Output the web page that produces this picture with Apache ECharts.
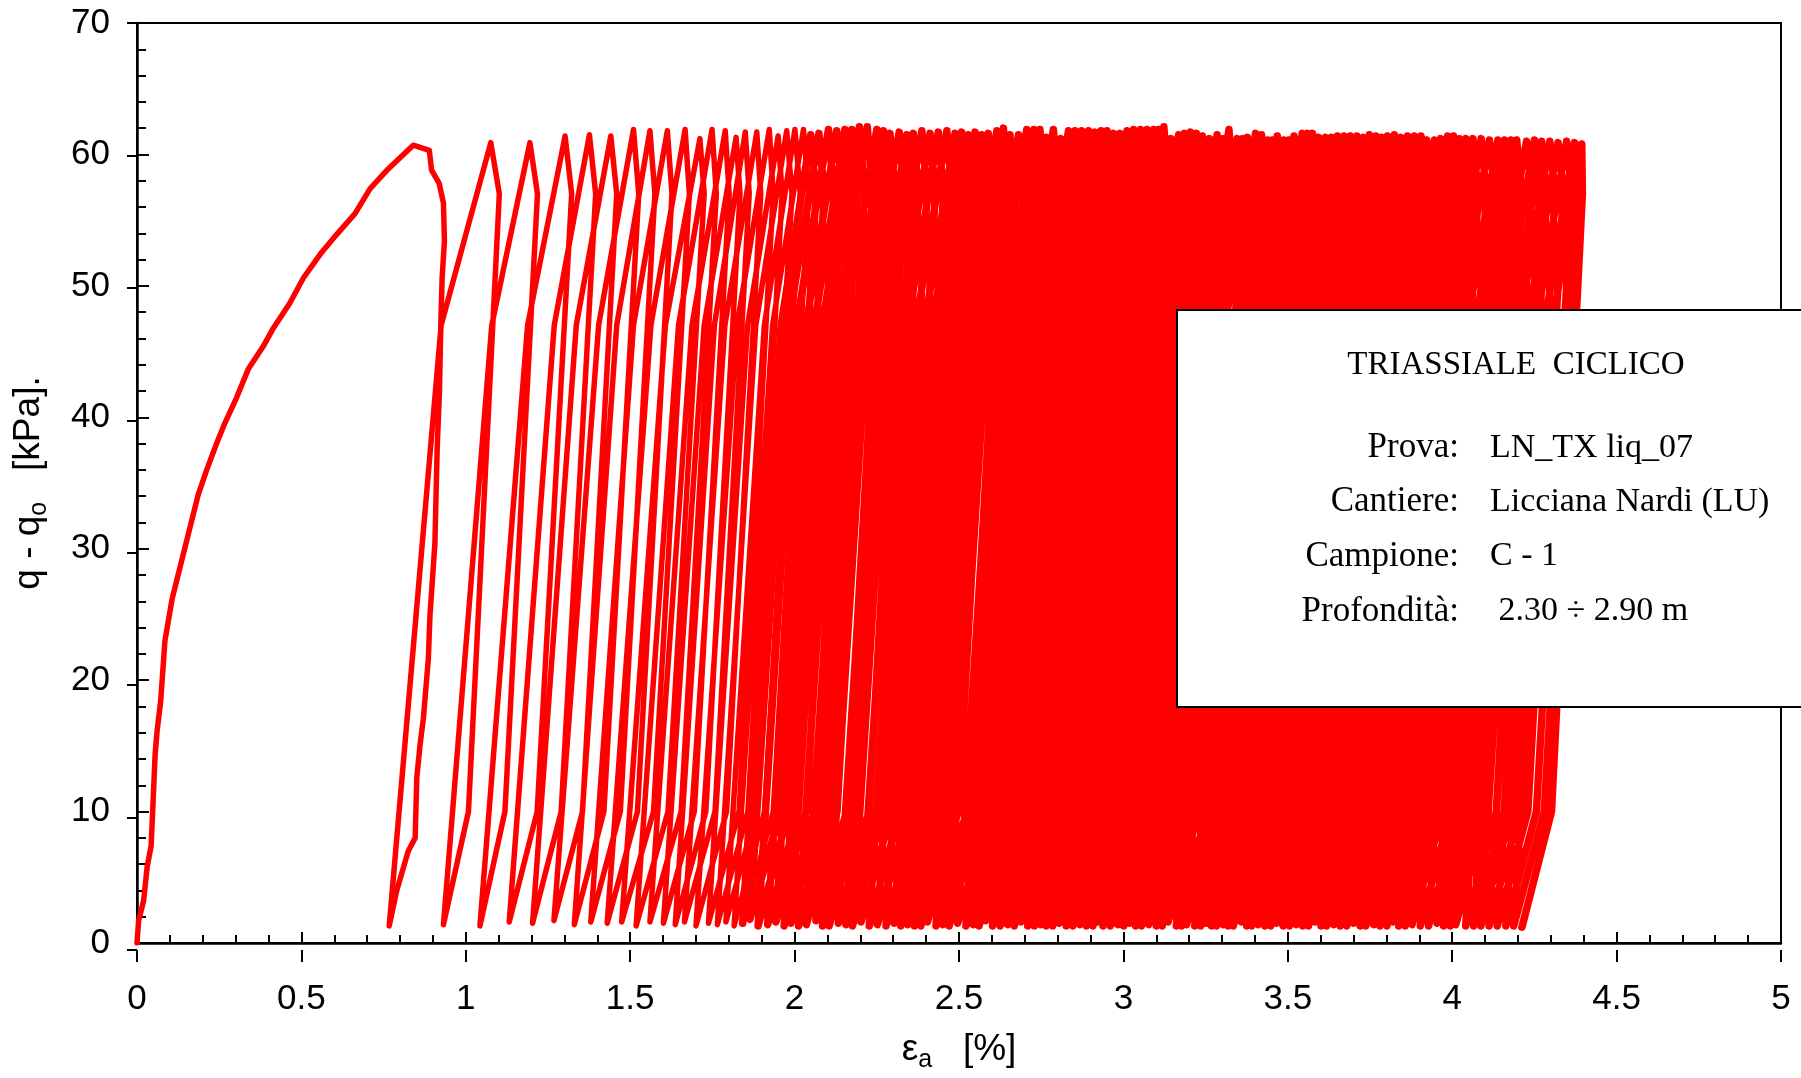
<!DOCTYPE html>
<html>
<head>
<meta charset="utf-8">
<script src="https://cdn.jsdelivr.net/npm/echarts@6/dist/echarts.min.js"></script>
<style>
html,body{margin:0;padding:0;background:#ffffff;}
#chart{width:1801px;height:1078px;}
</style>
</head>
<body>
<div id="chart"></div>
<script>
// ---------- DATA ----------
// axial strain eps_a [%] and deviator stress q - q0 [kPa]

// first monotonic loading up to the first peak, then the first unloading
const initEa = [0, 0.005, 0.020, 0.031, 0.043, 0.049, 0.055, 0.061, 0.072, 0.085,
  0.107, 0.142, 0.186, 0.212, 0.242, 0.268, 0.303, 0.339, 0.384, 0.415,
  0.465, 0.506, 0.557, 0.607, 0.663, 0.709, 0.764, 0.840, 0.889, 0.896,
  0.919, 0.932, 0.935, 0.928, 0.924, 0.920, 0.913, 0.906, 0.891, 0.886,
  0.871, 0.861, 0.851, 0.846, 0.825, 0.790];
const initQ = [0, 1.7, 3.2, 5.8, 7.4, 10.8, 14.3, 16.1, 18.4, 23.0,
  26.2, 29.7, 34.1, 36.0, 38.0, 39.6, 41.5, 43.7, 45.4, 46.8,
  48.7, 50.6, 52.4, 53.9, 55.5, 57.4, 58.9, 60.7, 60.3, 58.8,
  57.8, 56.3, 53.4, 50.6, 47.1, 42.0, 37.7, 30.4, 24.9, 21.6,
  17.1, 15.1, 12.6, 8.0, 7.0, 4.0];

// cyclic phase: valley (start of each reloading), last value = final valley
const valleyEa = [0.767, 0.932, 1.043, 1.132, 1.203, 1.268, 1.330, 1.380, 1.430, 1.474,
  1.518, 1.560, 1.601, 1.637, 1.665, 1.700, 1.738, 1.765, 1.791, 1.816,
  1.842, 1.864, 1.889, 1.918, 1.943, 1.968, 1.989, 2.012, 2.036, 2.065,
  2.085, 2.105, 2.133, 2.156, 2.176, 2.202, 2.227, 2.252, 2.278, 2.303,
  2.323, 2.343, 2.364, 2.384, 2.404, 2.430, 2.450, 2.470, 2.496, 2.521,
  2.543, 2.561, 2.581, 2.602, 2.625, 2.648, 2.668, 2.688, 2.709, 2.729,
  2.747, 2.765, 2.785, 2.805, 2.826, 2.846, 2.867, 2.887, 2.907, 2.922,
  2.938, 2.960, 2.983, 3.001, 3.019, 3.037, 3.055, 3.077, 3.100, 3.118,
  3.136, 3.161, 3.177, 3.192, 3.217, 3.235, 3.253, 3.268, 3.283, 3.303,
  3.318, 3.334, 3.359, 3.375, 3.390, 3.409, 3.430, 3.448, 3.466, 3.486,
  3.505, 3.525, 3.545, 3.563, 3.583, 3.601, 3.618, 3.639, 3.659, 3.679,
  3.700, 3.720, 3.737, 3.761, 3.780, 3.801, 3.819, 3.837, 3.857, 3.878,
  3.903, 3.928, 3.954, 3.974, 3.994, 4.011, 4.041, 4.065, 4.087, 4.112,
  4.137, 4.163, 4.187, 4.212];
const valleyQ = [1.3, 1.4, 1.3, 1.6, 1.5, 1.7, 1.4, 1.6, 1.5, 1.6,
  1.3, 1.6, 1.5, 1.4, 1.6, 1.3, 1.5, 1.4, 1.6, 1.3,
  1.5, 1.8, 1.3, 1.4, 1.6, 1.3, 1.5, 1.3, 1.4, 1.7,
  1.3, 1.3, 1.5, 1.4, 1.3, 1.6, 1.3, 1.4, 1.3, 1.5,
  1.3, 1.4, 1.3, 1.3, 1.6, 1.3, 1.4, 1.3, 1.5, 1.3,
  1.4, 1.3, 1.7, 1.3, 1.3, 1.4, 1.3, 1.6, 1.3, 1.3,
  1.4, 1.3, 1.3, 1.5, 1.3, 1.3, 1.4, 1.3, 1.3, 1.6,
  1.3, 1.3, 1.4, 1.3, 1.5, 1.3, 1.3, 1.4, 1.3, 1.3,
  1.6, 1.3, 1.3, 1.4, 1.3, 1.3, 1.5, 1.3, 1.3, 1.4,
  1.3, 1.3, 1.6, 1.3, 1.3, 1.4, 1.3, 1.3, 1.5, 1.3,
  1.3, 1.4, 1.3, 1.3, 1.6, 1.3, 1.3, 1.4, 1.3, 1.3,
  1.5, 1.3, 1.3, 1.4, 1.3, 1.3, 1.6, 1.3, 1.3, 1.4,
  1.3, 1.3, 1.5, 1.3, 1.3, 1.4, 1.3, 1.3, 1.3, 1.3,
  1.3, 1.3, 1.3, 1.2];

// reloading branch: strain read where the branch crosses q = kneeQ
const kneeQ = 47;
const kneeEa = [0.925, 1.079, 1.188, 1.269, 1.336, 1.404, 1.459, 1.510, 1.563, 1.607,
  1.647, 1.688, 1.725, 1.756, 1.788, 1.825, 1.857, 1.882, 1.908, 1.933,
  1.959, 1.981, 2.006, 2.035, 2.060, 2.085, 2.106, 2.129, 2.153, 2.182,
  2.202, 2.222, 2.250, 2.273, 2.293, 2.319, 2.344, 2.369, 2.395, 2.420,
  2.440, 2.460, 2.481, 2.501, 2.521, 2.547, 2.567, 2.587, 2.613, 2.638,
  2.660, 2.678, 2.698, 2.719, 2.742, 2.765, 2.785, 2.805, 2.826, 2.846,
  2.864, 2.882, 2.902, 2.922, 2.943, 2.963, 2.984, 3.004, 3.024, 3.039,
  3.055, 3.077, 3.100, 3.118, 3.136, 3.154, 3.172, 3.194, 3.217, 3.235,
  3.253, 3.278, 3.294, 3.309, 3.334, 3.352, 3.370, 3.385, 3.400, 3.420,
  3.435, 3.451, 3.476, 3.492, 3.507, 3.526, 3.547, 3.565, 3.583, 3.603,
  3.622, 3.642, 3.662, 3.680, 3.700, 3.718, 3.735, 3.756, 3.776, 3.796,
  3.817, 3.837, 3.854, 3.878, 3.897, 3.918, 3.936, 3.954, 3.974, 3.995,
  4.020, 4.045, 4.071, 4.091, 4.111, 4.128, 4.158, 4.182, 4.204, 4.229,
  4.254, 4.280, 4.304];

// peaks of each cycle
const peakEa = [1.076, 1.195, 1.302, 1.376, 1.441, 1.510, 1.560, 1.613, 1.667, 1.712,
  1.749, 1.789, 1.822, 1.850, 1.885, 1.923, 1.950, 1.976, 2.001, 2.027,
  2.049, 2.074, 2.103, 2.128, 2.153, 2.174, 2.197, 2.221, 2.250, 2.270,
  2.290, 2.318, 2.341, 2.361, 2.387, 2.412, 2.437, 2.463, 2.488, 2.508,
  2.528, 2.549, 2.569, 2.589, 2.615, 2.635, 2.655, 2.681, 2.706, 2.728,
  2.746, 2.766, 2.787, 2.810, 2.833, 2.853, 2.873, 2.894, 2.914, 2.932,
  2.950, 2.970, 2.990, 3.011, 3.031, 3.052, 3.072, 3.092, 3.107, 3.123,
  3.145, 3.168, 3.186, 3.204, 3.222, 3.240, 3.262, 3.285, 3.303, 3.321,
  3.346, 3.362, 3.377, 3.402, 3.420, 3.438, 3.453, 3.468, 3.488, 3.503,
  3.519, 3.544, 3.560, 3.575, 3.594, 3.615, 3.633, 3.651, 3.671, 3.690,
  3.710, 3.730, 3.748, 3.768, 3.786, 3.803, 3.824, 3.844, 3.864, 3.885,
  3.905, 3.922, 3.946, 3.965, 3.986, 4.004, 4.022, 4.042, 4.063, 4.088,
  4.113, 4.139, 4.159, 4.179, 4.196, 4.226, 4.250, 4.272, 4.297, 4.322,
  4.348, 4.372, 4.394];
const peakQ = [60.9, 60.9, 61.4, 61.5, 61.4, 61.9, 61.8, 61.8, 61.9, 61.2,
  61.9, 61.8, 61.3, 61.7, 61.7, 61.9, 61.4, 61.8, 61.9, 61.9,
  61.5, 61.6, 61.9, 61.8, 61.9, 61.9, 62.1, 62.1, 61.9, 61.8,
  61.6, 61.7, 61.5, 61.6, 61.8, 61.6, 61.7, 61.8, 61.6, 61.7,
  61.5, 61.7, 61.5, 61.6, 61.8, 62.0, 61.5, 61.5, 61.9, 61.9,
  61.9, 61.3, 61.9, 61.2, 61.8, 61.8, 61.8, 61.8, 61.7, 61.8,
  61.8, 61.6, 61.6, 61.8, 61.9, 61.9, 61.9, 61.9, 61.9, 62.1,
  61.2, 61.5, 61.6, 61.7, 61.6, 61.4, 61.2, 61.5, 61.2, 61.9,
  61.2, 61.2, 61.3, 61.6, 61.5, 61.1, 61.1, 61.4, 61.1, 61.1,
  61.4, 61.6, 61.6, 61.6, 61.3, 61.3, 61.3, 61.4, 61.4, 61.4,
  61.4, 61.3, 61.5, 61.4, 61.3, 61.4, 61.5, 61.3, 61.4, 61.4,
  61.4, 61.1, 61.1, 61.2, 61.4, 61.4, 61.2, 61.2, 61.2, 61.2,
  61.1, 61.1, 61.1, 61.1, 61.1, 61.0, 61.1, 61.0, 61.0, 60.9,
  61.0, 60.9, 60.8];

// unloading branch: strain read where it crosses q = shoulderQ and q = footQ
const shoulderQ = 57;
const shoulderEa = [1.102, 1.218, 1.322, 1.395, 1.459, 1.526, 1.575, 1.627, 1.680, 1.725,
  1.762, 1.801, 1.834, 1.862, 1.897, 1.935, 1.962, 1.992, 2.017, 2.043,
  2.065, 2.090, 2.119, 2.144, 2.169, 2.190, 2.213, 2.237, 2.266, 2.286,
  2.306, 2.334, 2.357, 2.377, 2.403, 2.428, 2.453, 2.479, 2.504, 2.524,
  2.544, 2.565, 2.585, 2.605, 2.631, 2.651, 2.671, 2.697, 2.722, 2.744,
  2.762, 2.782, 2.803, 2.826, 2.849, 2.869, 2.889, 2.910, 2.930, 2.948,
  2.966, 2.986, 3.006, 3.027, 3.047, 3.068, 3.088, 3.108, 3.123, 3.139,
  3.161, 3.184, 3.202, 3.220, 3.238, 3.256, 3.278, 3.301, 3.319, 3.337,
  3.362, 3.378, 3.393, 3.418, 3.436, 3.454, 3.469, 3.484, 3.504, 3.519,
  3.535, 3.560, 3.576, 3.591, 3.610, 3.631, 3.649, 3.667, 3.687, 3.706,
  3.726, 3.746, 3.764, 3.784, 3.802, 3.819, 3.840, 3.860, 3.880, 3.901,
  3.921, 3.938, 3.962, 3.981, 4.002, 4.020, 4.038, 4.058, 4.079, 4.104,
  4.129, 4.155, 4.175, 4.195, 4.212, 4.242, 4.266, 4.288, 4.313, 4.338,
  4.364, 4.386, 4.396];
const footQ = 10;
const footEa = [1.008, 1.119, 1.217, 1.290, 1.355, 1.420, 1.470, 1.522, 1.571, 1.615,
  1.655, 1.695, 1.730, 1.758, 1.793, 1.831, 1.858, 1.884, 1.909, 1.935,
  1.957, 1.982, 2.011, 2.036, 2.061, 2.082, 2.105, 2.129, 2.158, 2.178,
  2.198, 2.226, 2.249, 2.269, 2.295, 2.320, 2.345, 2.371, 2.396, 2.416,
  2.436, 2.457, 2.477, 2.497, 2.523, 2.543, 2.563, 2.589, 2.614, 2.636,
  2.654, 2.674, 2.695, 2.718, 2.741, 2.761, 2.781, 2.802, 2.822, 2.840,
  2.858, 2.878, 2.898, 2.919, 2.939, 2.960, 2.980, 3.000, 3.015, 3.031,
  3.053, 3.076, 3.094, 3.112, 3.130, 3.148, 3.170, 3.193, 3.211, 3.229,
  3.254, 3.270, 3.285, 3.310, 3.328, 3.346, 3.361, 3.376, 3.396, 3.411,
  3.427, 3.452, 3.468, 3.483, 3.502, 3.523, 3.541, 3.559, 3.579, 3.598,
  3.618, 3.638, 3.656, 3.676, 3.694, 3.711, 3.732, 3.752, 3.772, 3.793,
  3.813, 3.830, 3.854, 3.873, 3.894, 3.912, 3.930, 3.950, 3.971, 3.996,
  4.021, 4.047, 4.067, 4.087, 4.104, 4.134, 4.158, 4.180, 4.205, 4.230,
  4.256, 4.280, 4.302];

// axis ticks
const xTicks = [0, 0.5, 1, 1.5, 2, 2.5, 3, 3.5, 4, 4.5, 5];
const yTicks = [0, 10, 20, 30, 40, 50, 60, 70];

// info box texts
const boxTitle = 'TRIASSIALE  CICLICO';
const boxLabels = ['Prova:', 'Cantiere:', 'Campione:', 'Profondità:'];
const boxValues = ['LN_TX liq_07', 'Licciana Nardi (LU)', 'C - 1', ' 2.30 ÷ 2.90 m'];

// ---------- build the recorded path ----------
// cycles before MERGE are drawn as distinct loops; from MERGE on the loops
// overlap into the solid mass of the reference (drawn with a heavier pen)
const MERGE = 20;
function cyclePoints(from, to) {
  const pts = [];
  for (let k = from; k < to; k++) {
    pts.push([valleyEa[k], valleyQ[k]]);
    pts.push([kneeEa[k], kneeQ]);
    pts.push([peakEa[k], peakQ[k]]);
    pts.push([shoulderEa[k], shoulderQ]);
    pts.push([footEa[k], footQ]);
  }
  pts.push([valleyEa[to], valleyQ[to]]);
  return pts;
}
const earlyPath = [];
for (let i = 0; i < initEa.length; i++) earlyPath.push([initEa[i], initQ[i]]);
const earlyLoops = cyclePoints(0, MERGE);
for (let i = 0; i < earlyLoops.length; i++) earlyPath.push(earlyLoops[i]);
const densePath = cyclePoints(MERGE, peakEa.length);

// ---------- chart ----------
const SANS = "'Liberation Sans', Arial, sans-serif";
const SERIF = "'Liberation Serif', 'Times New Roman', serif";
const GRID = {left: 137, top: 23, width: 1644, height: 927};

const chart = echarts.init(document.getElementById('chart'), null, {renderer: 'canvas'});

const boxChildren = [
  {type: 'rect', z: 100, shape: {x: 1177, y: 310, width: 700, height: 397},
   style: {fill: '#ffffff', stroke: '#000000', lineWidth: 2}},
  {type: 'text', z: 101, x: 1516, y: 365,
   style: {text: boxTitle, fontSize: 33, fontFamily: SERIF, fill: '#000', align: 'center', verticalAlign: 'middle'}}
];
const rowY = [448, 502, 556.5, 611.5];
for (let i = 0; i < boxLabels.length; i++) {
  boxChildren.push({type: 'text', z: 101, x: 1459, y: rowY[i],
    style: {text: boxLabels[i], fontSize: 35, fontFamily: SERIF, fill: '#000', align: 'right', verticalAlign: 'middle'}});
  boxChildren.push({type: 'text', z: 101, x: 1490, y: rowY[i],
    style: {text: boxValues[i], fontSize: 34, fontFamily: SERIF, fill: '#000', align: 'left', verticalAlign: 'middle'}});
}

const titleRich = {
  m: {fontSize: 37, fontFamily: SANS, color: '#000', lineHeight: 46},
  s: {fontSize: 25, fontFamily: SANS, color: '#000', lineHeight: 23, verticalAlign: 'bottom'}
};

const option = {
  animation: false,
  backgroundColor: '#ffffff',
  textStyle: {fontFamily: SANS, color: '#000'},
  grid: [
    Object.assign({show: true, borderColor: '#000', borderWidth: 2, backgroundColor: 'rgba(0,0,0,0)'}, GRID),
    Object.assign({show: false}, GRID)
  ],
  xAxis: [
    {
      type: 'value', gridIndex: 0, min: xTicks[0], max: xTicks[xTicks.length - 1], interval: 0.5,
      axisLine: {show: true, onZero: false, lineStyle: {color: '#000', width: 2.5}},
      axisTick: {show: true, inside: true, length: 11, lineStyle: {color: '#000', width: 2}},
      minorTick: {show: true, splitNumber: 5, length: 8, lineStyle: {color: '#000', width: 2}},
      splitLine: {show: false}, minorSplitLine: {show: false},
      axisLabel: {color: '#000', fontSize: 35, fontFamily: SANS, margin: 39},
      name: '{m|ε}{s|a}{m|   [%]}',
      nameLocation: 'middle', nameGap: 84,
      nameTextStyle: {color: '#000', fontFamily: SANS, fontSize: 37, rich: titleRich}
    },
    {
      type: 'value', gridIndex: 1, min: xTicks[0], max: xTicks[xTicks.length - 1], interval: 0.5,
      axisLine: {show: false}, axisLabel: {show: false}, splitLine: {show: false},
      axisTick: {show: true, inside: false, length: 12, lineStyle: {color: '#000', width: 2}}
    }
  ],
  yAxis: [
    {
      type: 'value', gridIndex: 0, min: yTicks[0], max: yTicks[yTicks.length - 1], interval: 10,
      axisLine: {show: true, onZero: false, lineStyle: {color: '#000', width: 2.5}},
      axisTick: {show: true, inside: true, length: 12, lineStyle: {color: '#000', width: 2}},
      minorTick: {show: true, splitNumber: 5, length: 9, lineStyle: {color: '#000', width: 2}},
      splitLine: {show: false}, minorSplitLine: {show: false},
      axisLabel: {color: '#000', fontSize: 35, fontFamily: SANS, margin: 27},
      name: '{m|q - q}{s|o}{m|   [kPa].}',
      nameLocation: 'middle', nameGap: 85, nameRotate: 90,
      nameTextStyle: {color: '#000', fontFamily: SANS, fontSize: 37, rich: titleRich}
    },
    {
      type: 'value', gridIndex: 1, min: yTicks[0], max: yTicks[yTicks.length - 1], interval: 10,
      axisLine: {show: false}, axisLabel: {show: false}, splitLine: {show: false},
      axisTick: {show: true, inside: false, length: 10, lineStyle: {color: '#000', width: 2}}
    }
  ],
  series: [
    {
      name: 'loops', type: 'line', xAxisIndex: 0, yAxisIndex: 0,
      data: earlyPath,
      showSymbol: false, symbol: 'none', smooth: false, silent: true,
      lineStyle: {color: '#ff0000', width: 5.5, join: 'round', cap: 'round'},
      z: 2
    },
    {
      name: 'loops (dense)', type: 'line', xAxisIndex: 0, yAxisIndex: 0,
      data: densePath,
      showSymbol: false, symbol: 'none', smooth: false, silent: true,
      lineStyle: {color: '#ff0000', width: 7.5, join: 'round', cap: 'round'},
      z: 2
    }
  ],
  graphic: [{type: 'group', z: 100, children: boxChildren}]
};

chart.setOption(option);
</script>
</body>
</html>
